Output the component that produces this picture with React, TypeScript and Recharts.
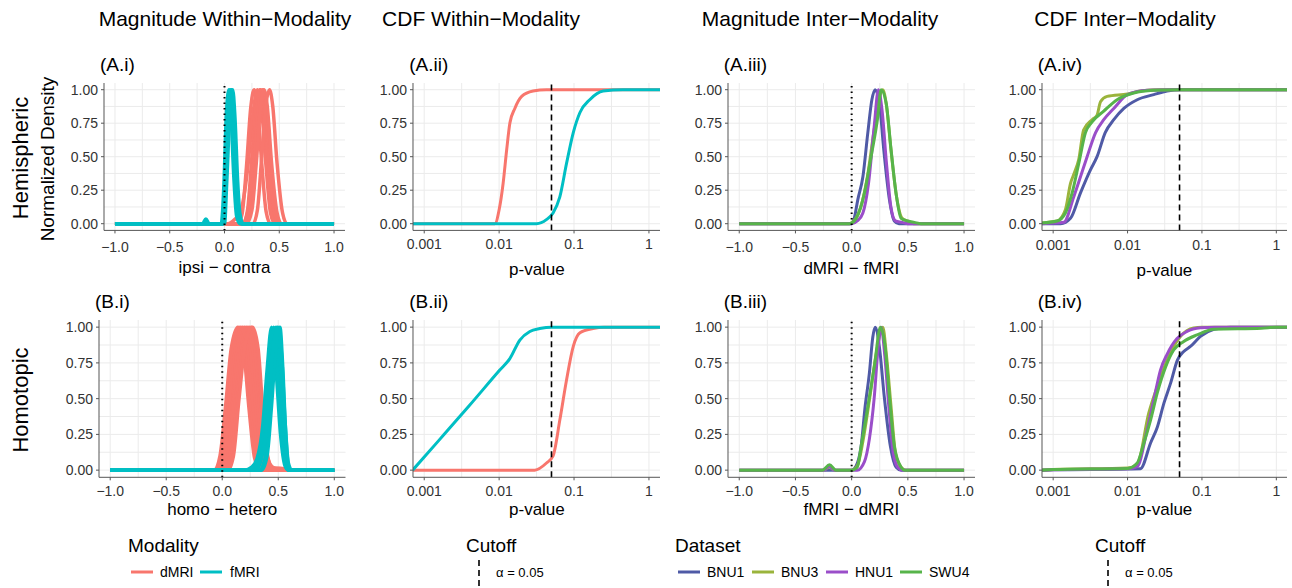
import React from 'react';
import { LineChart, Line, XAxis, YAxis, CartesianGrid, ReferenceLine } from 'recharts';

type Pair = [number, number];

// ---- magnitude densities, within modality (x = difference, y = normalized density)
const hemiMagD: Pair[][] = [
  [[-1, 0], [0.12, 0], [0.16, 0.07], [0.2, 0.42], [0.24, 0.87], [0.27, 1], [0.3, 0.88], [0.34, 0.45], [0.38, 0.09], [0.42, 0], [1, 0]],
  [[-1, 0], [0.03, 0], [0.09, 0.03], [0.15, 0.1], [0.21, 0.4], [0.26, 0.82], [0.3, 1], [0.34, 0.84], [0.38, 0.42], [0.42, 0.08], [0.46, 0], [1, 0]],
  [[-1, 0], [0.17, 0], [0.21, 0.1], [0.25, 0.5], [0.29, 0.9], [0.32, 1], [0.35, 0.9], [0.39, 0.47], [0.43, 0.1], [0.47, 0], [1, 0]],
  [[-1, 0], [0.16, 0], [0.21, 0.08], [0.26, 0.45], [0.3, 0.88], [0.33, 1], [0.36, 0.88], [0.4, 0.5], [0.45, 0.1], [0.49, 0], [1, 0]],
  [[-1, 0], [0.19, 0], [0.23, 0.09], [0.27, 0.43], [0.31, 0.86], [0.345, 1], [0.38, 0.86], [0.42, 0.42], [0.46, 0.08], [0.5, 0], [1, 0]],
  [[-1, 0], [0.2, 0], [0.25, 0.1], [0.29, 0.45], [0.33, 0.88], [0.36, 1], [0.39, 0.88], [0.43, 0.45], [0.48, 0.08], [0.52, 0], [1, 0]],
  [[-1, 0], [0.26, 0], [0.3, 0.1], [0.34, 0.5], [0.38, 0.9], [0.41, 1], [0.44, 0.88], [0.48, 0.45], [0.53, 0.08], [0.57, 0], [1, 0]],
];
const hemiMagF: Pair[][] = [
  [[-1, 0], [-0.2, 0], [-0.17, 0.035], [-0.14, 0], [-0.03, 0], [-0.005, 0.3], [0.015, 0.78], [0.04, 1], [0.06, 0.8], [0.085, 0.35], [0.11, 0.06], [0.14, 0], [1, 0]],
  [[-1, 0], [-0.02, 0], [0.005, 0.35], [0.025, 0.82], [0.05, 1], [0.07, 0.82], [0.095, 0.35], [0.12, 0.06], [0.15, 0], [1, 0]],
  [[-1, 0], [-0.01, 0], [0.01, 0.3], [0.035, 0.8], [0.06, 1], [0.08, 0.8], [0.105, 0.3], [0.13, 0.05], [0.16, 0], [1, 0]],
  [[-1, 0], [-0.015, 0], [0.01, 0.32], [0.04, 0.85], [0.065, 1], [0.085, 0.78], [0.11, 0.3], [0.135, 0.05], [0.16, 0], [1, 0]],
  [[-1, 0], [0, 0], [0.02, 0.3], [0.05, 0.85], [0.075, 1], [0.095, 0.8], [0.12, 0.32], [0.14, 0.08], [0.17, 0], [1, 0]],
];
const homoMagD: Pair[][] = [
  [[-1, 0], [-0.07, 0], [-0.02, 0.1], [0.03, 0.45], [0.08, 0.85], [0.14, 1], [0.19, 0.85], [0.24, 0.42], [0.29, 0.08], [0.34, 0], [1, 0]],
  [[-1, 0], [-0.05, 0], [0, 0.08], [0.05, 0.42], [0.1, 0.85], [0.16, 1], [0.21, 0.86], [0.26, 0.45], [0.31, 0.1], [0.36, 0.02], [0.45, 0], [1, 0]],
  [[-1, 0], [-0.03, 0], [0.02, 0.1], [0.07, 0.45], [0.12, 0.86], [0.18, 1], [0.23, 0.85], [0.28, 0.42], [0.33, 0.08], [0.38, 0], [1, 0]],
  [[-1, 0], [-0.02, 0], [0.03, 0.08], [0.09, 0.45], [0.14, 0.88], [0.2, 1], [0.25, 0.86], [0.3, 0.44], [0.35, 0.09], [0.4, 0.02], [0.55, 0.01], [0.6, 0], [1, 0]],
  [[-1, 0], [0, 0], [0.05, 0.1], [0.1, 0.45], [0.16, 0.88], [0.22, 1], [0.27, 0.86], [0.32, 0.43], [0.37, 0.08], [0.42, 0], [1, 0]],
  [[-1, 0], [0.02, 0], [0.07, 0.1], [0.12, 0.48], [0.18, 0.9], [0.24, 1], [0.29, 0.85], [0.34, 0.42], [0.39, 0.08], [0.44, 0], [1, 0]],
  [[-1, 0], [0.03, 0], [0.08, 0.09], [0.13, 0.45], [0.19, 0.88], [0.26, 1], [0.31, 0.86], [0.35, 0.45], [0.4, 0.1], [0.45, 0.02], [0.52, 0], [1, 0]],
  [[-1, 0], [0.05, 0], [0.1, 0.1], [0.15, 0.5], [0.21, 0.9], [0.27, 1], [0.32, 0.85], [0.36, 0.45], [0.41, 0.08], [0.46, 0], [1, 0]],
];
const homoMagF: Pair[][] = [
  [[-1, 0], [0.2, 0], [0.26, 0.02], [0.31, 0.08], [0.36, 0.3], [0.4, 0.7], [0.44, 1], [0.48, 0.7], [0.52, 0.25], [0.56, 0.03], [0.59, 0], [1, 0]],
  [[-1, 0], [0.3, 0], [0.35, 0.08], [0.39, 0.4], [0.43, 0.82], [0.46, 1], [0.49, 0.8], [0.52, 0.38], [0.56, 0.06], [0.59, 0], [1, 0]],
  [[-1, 0], [0.25, 0], [0.3, 0.04], [0.36, 0.2], [0.4, 0.45], [0.44, 0.82], [0.48, 1], [0.51, 0.8], [0.54, 0.4], [0.57, 0.06], [0.6, 0], [1, 0]],
  [[-1, 0], [0.33, 0], [0.38, 0.08], [0.42, 0.4], [0.46, 0.85], [0.49, 1], [0.52, 0.8], [0.55, 0.35], [0.58, 0.05], [0.61, 0], [1, 0]],
  [[-1, 0], [0.35, 0], [0.4, 0.1], [0.44, 0.45], [0.48, 0.88], [0.515, 1], [0.54, 0.72], [0.565, 0.28], [0.59, 0.03], [0.61, 0], [1, 0]],
  [[-1, 0], [0.28, 0], [0.33, 0.05], [0.38, 0.2], [0.42, 0.5], [0.46, 0.9], [0.5, 1], [0.53, 0.8], [0.56, 0.35], [0.59, 0.05], [0.62, 0], [1, 0]],
];

// ---- CDFs within modality (x = p-value, y = cumulative share)
const hemiCdfD: Pair[] = [[0.0007, 0], [0.00877, 0], [0.01, 0.104], [0.0113, 0.3], [0.0126, 0.55], [0.0139, 0.75], [0.0162, 0.86], [0.02, 0.95], [0.0284, 0.99], [0.0427, 1], [1.5, 1]];
const hemiCdfF: Pair[] = [[0.0007, 0], [0.0316, 0], [0.0427, 0.03], [0.0525, 0.08], [0.0646, 0.2], [0.0794, 0.45], [0.0977, 0.68], [0.12, 0.83], [0.162, 0.925], [0.245, 0.99], [0.447, 1], [1.5, 1]];
const homoCdfD: Pair[] = [[0.0007, 0], [0.0299, 0], [0.0429, 0.05], [0.0525, 0.1], [0.0646, 0.35], [0.0794, 0.63], [0.0977, 0.865], [0.12, 0.96], [0.179, 0.99], [0.25, 1], [1.5, 1]];
const homoCdfF: Pair[] = [[0.0007, 0], [0.00158, 0.21], [0.00398, 0.45], [0.0102, 0.7], [0.0139, 0.78], [0.0189, 0.91], [0.0257, 0.97], [0.0349, 0.99], [0.05, 1], [1.5, 1]];

// ---- inter modality, per dataset: BNU1, BNU3, HNU1, SWU4
const datasets = ['BNU1', 'BNU3', 'HNU1', 'SWU4'];
const datasetColors = ['#4F5AA6', '#9AB43C', '#9A4EC9', '#57B44A'];

const hemiInterMag: Pair[][] = [
  [[-1, 0], [0, 0], [0.02, 0.03], [0.055, 0.18], [0.1, 0.35], [0.144, 0.68], [0.18, 0.925], [0.209, 1], [0.247, 0.9], [0.286, 0.55], [0.336, 0.18], [0.38, 0.02], [0.42, 0], [1, 0]],
  [[-1, 0], [-0.02, 0], [0.03, 0.03], [0.08, 0.12], [0.14, 0.35], [0.2, 0.7], [0.25, 0.95], [0.277, 1], [0.31, 0.88], [0.35, 0.55], [0.4, 0.2], [0.45, 0.04], [0.5, 0.02], [0.55, 0], [1, 0]],
  [[-1, 0], [0, 0], [0.05, 0.02], [0.1, 0.08], [0.15, 0.3], [0.2, 0.72], [0.238, 1], [0.27, 0.85], [0.31, 0.45], [0.35, 0.12], [0.39, 0.02], [0.45, 0.01], [0.5, 0], [1, 0]],
  [[-1, 0], [-0.02, 0], [0.04, 0.04], [0.114, 0.23], [0.173, 0.5], [0.233, 0.8], [0.262, 1], [0.307, 0.9], [0.351, 0.55], [0.396, 0.22], [0.44, 0.04], [0.5, 0.02], [0.558, 0.01], [0.62, 0], [1, 0]],
];
const homoInterMag: Pair[][] = [
  [[-1, 0], [0, 0], [0.04, 0.03], [0.084, 0.165], [0.12, 0.445], [0.158, 0.68], [0.188, 0.93], [0.209, 1], [0.247, 0.86], [0.29, 0.515], [0.345, 0.165], [0.396, 0.02], [0.44, 0], [1, 0]],
  [[-1, 0], [-0.25, 0], [-0.2, 0.02], [-0.15, 0], [0, 0], [0.05, 0.03], [0.1, 0.2], [0.16, 0.5], [0.22, 0.82], [0.277, 1], [0.31, 0.8], [0.35, 0.45], [0.39, 0.12], [0.44, 0.02], [0.48, 0], [1, 0]],
  [[-1, 0], [-0.25, 0], [-0.2, 0.025], [-0.15, 0], [0.05, 0], [0.114, 0.06], [0.158, 0.22], [0.2, 0.5], [0.235, 0.85], [0.262, 1], [0.295, 0.8], [0.33, 0.45], [0.37, 0.12], [0.41, 0.02], [0.45, 0], [1, 0]],
  [[-1, 0], [-0.26, 0], [-0.197, 0.037], [-0.14, 0], [0, 0], [0.05, 0.02], [0.084, 0.165], [0.144, 0.445], [0.203, 0.73], [0.256, 1], [0.298, 0.86], [0.336, 0.515], [0.38, 0.165], [0.44, 0.02], [0.47, 0], [1, 0]],
];
const hemiInterCdf: Pair[][] = [
  [[0.0007, 0], [0.00126, 0], [0.00171, 0.04], [0.00233, 0.23], [0.00316, 0.4], [0.00389, 0.5], [0.00501, 0.68], [0.00653, 0.776], [0.00891, 0.86], [0.0135, 0.925], [0.0225, 0.963], [0.034, 0.99], [0.0513, 1], [1.5, 1]],
  [[0.0007, 0.005], [0.00113, 0.02], [0.00146, 0.104], [0.00171, 0.3], [0.00193, 0.38], [0.00221, 0.48], [0.00257, 0.7], [0.00334, 0.776], [0.00389, 0.81], [0.00433, 0.91], [0.00532, 0.95], [0.01, 0.968], [0.0149, 0.99], [0.0275, 1], [1.5, 1]],
  [[0.0007, 0], [0.00139, 0.01], [0.00189, 0.2], [0.00233, 0.35], [0.00286, 0.5], [0.00372, 0.68], [0.00479, 0.776], [0.00653, 0.86], [0.01, 0.963], [0.0183, 0.995], [0.0339, 1], [1.5, 1]],
  [[0.0007, 0.005], [0.00113, 0.02], [0.00146, 0.08], [0.0018, 0.23], [0.00221, 0.45], [0.00272, 0.68], [0.00334, 0.76], [0.00479, 0.84], [0.00724, 0.925], [0.0121, 0.975], [0.0224, 0.995], [0.05, 1], [1.5, 1]],
];
const homoInterCdf: Pair[][] = [
  [[0.0007, 0], [0.001, 0.002], [0.01, 0.008], [0.0149, 0.01], [0.0204, 0.19], [0.0251, 0.3], [0.0309, 0.47], [0.038, 0.61], [0.0468, 0.77], [0.0569, 0.83], [0.07, 0.865], [0.0955, 0.935], [0.145, 0.985], [0.242, 1], [1.5, 1]],
  [[0.0007, 0], [0.001, 0.004], [0.01, 0.015], [0.0135, 0.04], [0.0193, 0.4], [0.0251, 0.585], [0.034, 0.77], [0.0513, 0.935], [0.0776, 0.995], [0.1, 1], [1.5, 1]],
  [[0.0007, 0], [0.001, 0.003], [0.01, 0.01], [0.0135, 0.025], [0.0183, 0.28], [0.0225, 0.49], [0.0277, 0.7], [0.034, 0.81], [0.0463, 0.92], [0.063, 0.97], [0.0955, 0.995], [0.15, 1], [1.5, 1]],
  [[0.0007, 0], [0.001, 0.004], [0.01, 0.012], [0.0135, 0.05], [0.0166, 0.19], [0.0204, 0.35], [0.0251, 0.54], [0.0324, 0.72], [0.0417, 0.84], [0.0569, 0.9], [0.0861, 0.946], [0.145, 0.985], [0.63, 0.992], [1, 1], [1.5, 1]],
];

// ---- axes
const magTicks = [-1, -0.5, 0, 0.5, 1];
const magGrid = [-1, -0.75, -0.5, -0.25, 0, 0.25, 0.5, 0.75, 1];
const logTicks = [0.001, 0.01, 0.1, 1];
const logGrid = [0.001, 0.00316, 0.01, 0.0316, 0.1, 0.316, 1];
const yTicks = [0, 0.25, 0.5, 0.75, 1];
const yGrid = [0, 0.125, 0.25, 0.375, 0.5, 0.625, 0.75, 0.875, 1];

const modalities = ['dMRI', 'fMRI'];
const RED = '#F8766D';
const CYAN = '#00BFC4';
const FONT = '"Liberation Sans", Arial, Helvetica, sans-serif';

const YW = 60;
const XH = 40;

interface Curve { color: string; pts: Pair[] }

interface PanelDef {
  label: string;
  x: number; y: number; w: number; h: number;
  kind: 'mag' | 'cdf';
  curves: Curve[];
  lw: number;
  tm: number;
  title: string;
  titleY: number;
}

const within = (d: Pair[][], f: Pair[][]): Curve[] => [
  ...d.map((pts) => ({ color: RED, pts })),
  ...f.map((pts) => ({ color: CYAN, pts })),
];
const inter = (sets: Pair[][]): Curve[] => sets.map((pts, i) => ({ color: datasetColors[i], pts }));

const rowA = { y: 83.3, h: 147.4 };
const rowB = { y: 320.2, h: 157.3 };

const panels: PanelDef[] = [
  { label: '(A.i)', x: 104, w: 241, ...rowA, kind: 'mag', curves: within(hemiMagD, hemiMagF), lw: 3.5, tm: 9, title: 'ipsi − contra', titleY: 273 },
  { label: '(A.ii)', x: 413.3, w: 247.2, ...rowA, kind: 'cdf', curves: within([hemiCdfD], [hemiCdfF]), lw: 3, tm: 6, title: 'p-value', titleY: 275 },
  { label: '(A.iii)', x: 727.7, w: 247.3, ...rowA, kind: 'mag', curves: inter(hemiInterMag), lw: 3, tm: 9, title: 'dMRI − fMRI', titleY: 274 },
  { label: '(A.iv)', x: 1041.7, w: 245.5, ...rowA, kind: 'cdf', curves: inter(hemiInterCdf), lw: 3, tm: 6.5, title: 'p-value', titleY: 276 },
  { label: '(B.i)', x: 99, w: 246.5, ...rowB, kind: 'mag', curves: within(homoMagD, homoMagF), lw: 3.5, tm: 5.5, title: 'homo − hetero', titleY: 515 },
  { label: '(B.ii)', x: 413.3, w: 247.2, ...rowB, kind: 'cdf', curves: within([homoCdfD], [homoCdfF]), lw: 3, tm: 5.5, title: 'p-value', titleY: 515 },
  { label: '(B.iii)', x: 727.7, w: 247.3, ...rowB, kind: 'mag', curves: inter(homoInterMag), lw: 3, tm: 5.5, title: 'fMRI − dMRI', titleY: 515 },
  { label: '(B.iv)', x: 1041.7, w: 245.5, ...rowB, kind: 'cdf', curves: inter(homoInterCdf), lw: 3, tm: 5.5, title: 'p-value', titleY: 515 },
];

const fmtMag = (v: number) => (v < 0 ? '−' : '') + Math.abs(v).toFixed(1);
const fmtLog = (v: number) => String(v);

function Panel({ p }: { p: PanelDef }) {
  const isLog = p.kind === 'cdf';
  const W = p.w + YW;
  const H = p.h + XH;
  return (
    <div style={{ position: 'absolute', left: p.x - YW, top: p.y, width: W, height: H }}>
      <LineChart width={W} height={H} margin={{ top: 0, right: 0, bottom: 0, left: 0 }}>
        <CartesianGrid stroke="#ebebeb" strokeWidth={1} horizontalValues={yGrid} verticalValues={isLog ? logGrid : magGrid} />
        <XAxis
          type="number"
          dataKey="x"
          scale={isLog ? 'log' : 'linear'}
          domain={isLog ? [0.000708, 1.413] : [-1.1, 1.1]}
          allowDataOverflow
          ticks={isLog ? logTicks : magTicks}
          interval={0}
          tickFormatter={isLog ? fmtLog : fmtMag}
          height={XH}
          tickSize={3}
          tickMargin={p.tm}
          stroke="#555"
          tick={{ fontSize: 14, fill: '#333' }}
        />
        <YAxis
          type="number"
          domain={[-0.05, 1.05]}
          allowDataOverflow
          ticks={yTicks}
          interval={0}
          tickFormatter={(v: number) => v.toFixed(2)}
          width={YW}
          tickSize={3}
          tickMargin={3}
          stroke="#555"
          tick={{ fontSize: 14, fill: '#333' }}
        />
        {p.curves.map((c, i) => (
          <Line
            key={i}
            name={`${p.label}-${i}`}
            data={c.pts.map(([x, y]) => ({ x, y }))}
            dataKey="y"
            type="monotone"
            stroke={c.color}
            strokeWidth={p.lw}
            dot={false}
            activeDot={false}
            isAnimationActive={false}
          />
        ))}
        <ReferenceLine
          x={isLog ? 0.05 : 0}
          stroke="#000"
          strokeWidth={isLog ? 1.6 : 2}
          strokeDasharray={isLog ? '6 4' : '1.5 4'}
        />
      </LineChart>
    </div>
  );
}

const colTitles = [
  { t: 'Magnitude Within−Modality', x: 225 },
  { t: 'CDF Within−Modality', x: 481 },
  { t: 'Magnitude Inter−Modality', x: 820 },
  { t: 'CDF Inter−Modality', x: 1125 },
];

export default function App() {
  return (
    <div style={{ position: 'absolute', left: 0, top: 0, width: 1292, height: 588, background: '#fff', fontFamily: FONT, overflow: 'hidden' }}>
      {panels.map((p) => <Panel key={p.label} p={p} />)}
      <svg width={1292} height={588} style={{ position: 'absolute', left: 0, top: 0, pointerEvents: 'none' }} fontFamily={FONT}>
        {colTitles.map((c) => (
          <text key={c.t} x={c.x} y={26} fontSize={21} textAnchor="middle" fill="#000">{c.t}</text>
        ))}
        {panels.map((p) => (
          <g key={p.label}>
            <text x={p.x - 4} y={p.y - 12} fontSize={19} fill="#000">{p.label}</text>
            <text x={p.x + p.w / 2} y={p.titleY} fontSize={17} textAnchor="middle" fill="#000">{p.title}</text>
          </g>
        ))}
        <text transform="translate(28,158) rotate(-90)" fontSize={22} textAnchor="middle" fill="#000">Hemispheric</text>
        <text transform="translate(54,159) rotate(-90)" fontSize={19} textAnchor="middle" fill="#000">Normalized Density</text>
        <text transform="translate(28,400) rotate(-90)" fontSize={22} textAnchor="middle" fill="#000">Homotopic</text>

        {/* Modality legend */}
        <text x={128} y={552} fontSize={19} fill="#000">Modality</text>
        {modalities.map((m, i) => (
          <g key={m}>
            <line x1={131 + i * 69} x2={153 + i * 69} y1={572} y2={572} stroke={i === 0 ? RED : CYAN} strokeWidth={3} />
            <text x={160 + i * 70} y={577} fontSize={14} fill="#000">{m}</text>
          </g>
        ))}
        <text x={466} y={552} fontSize={19} fill="#000">Cutoff</text>
        <line x1={479} x2={479} y1={560} y2={590} stroke="#000" strokeWidth={1.6} strokeDasharray="6 4" />
        <text x={496} y={577} fontSize={13} fill="#000">α = 0.05</text>

        {/* Dataset legend */}
        <text x={675} y={552} fontSize={19} fill="#000">Dataset</text>
        {datasets.map((d, i) => (
          <g key={d}>
            <line x1={678 + i * 74} x2={700 + i * 74} y1={572} y2={572} stroke={datasetColors[i]} strokeWidth={3} />
            <text x={707 + i * 74} y={577} fontSize={14} fill="#000">{d}</text>
          </g>
        ))}
        <text x={1095} y={552} fontSize={19} fill="#000">Cutoff</text>
        <line x1={1108} x2={1108} y1={560} y2={590} stroke="#000" strokeWidth={1.6} strokeDasharray="6 4" />
        <text x={1125} y={577} fontSize={13} fill="#000">α = 0.05</text>
      </svg>
    </div>
  );
}
